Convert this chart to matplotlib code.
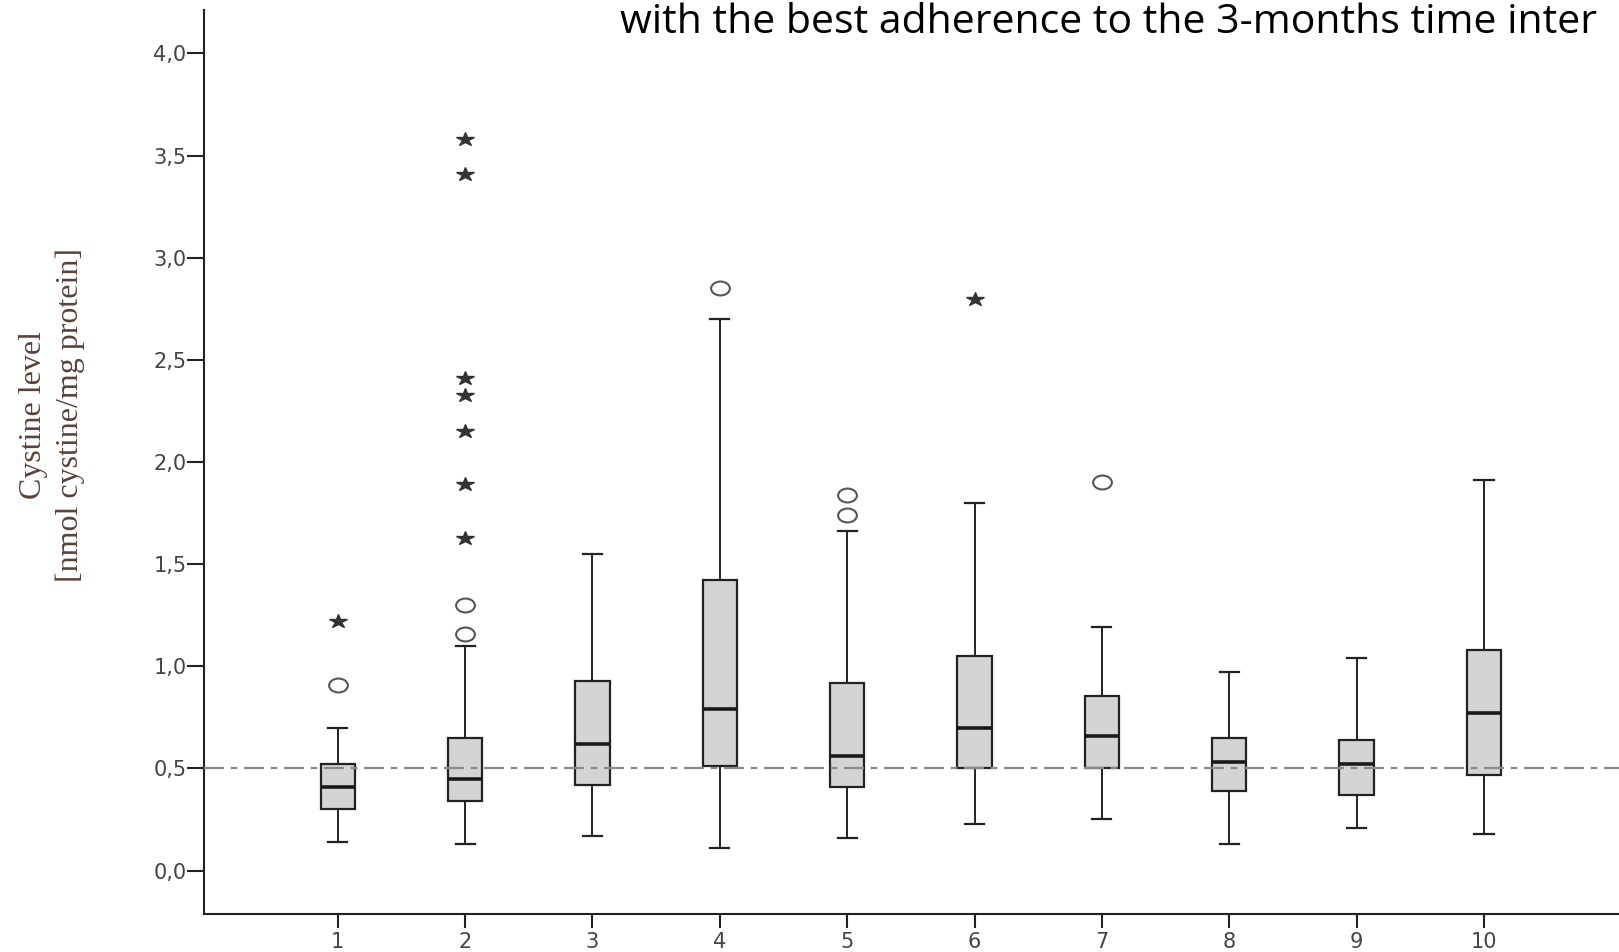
import numpy as np
import matplotlib.pyplot as plt
from matplotlib.markers import MarkerStyle
from matplotlib.transforms import Affine2D

# box statistics (nmol cystine / mg protein)
groups = [1, 2, 3, 4, 5, 6, 7, 8, 9, 10]
whisk_lo = [0.14, 0.13, 0.17, 0.11, 0.16, 0.23, 0.25, 0.13, 0.21, 0.18]
q1 = [0.30, 0.34, 0.42, 0.51, 0.41, 0.50, 0.50, 0.39, 0.37, 0.47]
med = [0.41, 0.45, 0.62, 0.79, 0.56, 0.70, 0.66, 0.53, 0.52, 0.77]
q3 = [0.52, 0.65, 0.93, 1.42, 0.92, 1.05, 0.855, 0.65, 0.64, 1.08]
whisk_hi = [0.70, 1.10, 1.55, 2.70, 1.66, 1.80, 1.19, 0.97, 1.04, 1.91]

# outliers (circles) and extreme values (stars)
circ_x = [1, 2, 2, 4, 5, 5, 7]
circ_y = [0.91, 1.16, 1.30, 2.85, 1.84, 1.74, 1.90]
star_x = [1, 2, 2, 2, 2, 2, 2, 2, 6]
star_y = [1.22, 1.63, 1.89, 2.15, 2.33, 2.41, 3.41, 3.58, 2.80]

ref_level = 0.5
yticks = [0.0, 0.5, 1.0, 1.5, 2.0, 2.5, 3.0, 3.5, 4.0]

fig = plt.figure(figsize=(16.19, 9.52), dpi=100)
ax = fig.add_axes([0.1263, 0.0401, 0.8737, 0.9489])

stats = []
for i in range(len(groups)):
    stats.append(dict(whislo=whisk_lo[i], q1=q1[i], med=med[i], q3=q3[i],
                      whishi=whisk_hi[i], fliers=[]))

ax.axhline(ref_level, color="#8a8a8a", lw=1.6, ls=(0, (9, 3, 3, 3)), zorder=3)

ax.bxp(stats, positions=groups, widths=0.27, patch_artist=True,
       showfliers=False, capwidths=0.15,
       boxprops=dict(facecolor="#d4d4d4", edgecolor="#222222", lw=1.6),
       medianprops=dict(color="#1a1a1a", lw=2.6),
       whiskerprops=dict(color="#222222", lw=1.4),
       capprops=dict(color="#222222", lw=1.6), zorder=2)

# markers look a little wider than tall in the original
wide = Affine2D().scale(1.35, 1.0)
circ_marker = MarkerStyle("o", fillstyle="none", transform=wide)
star_marker = MarkerStyle("*", transform=wide)
ax.plot(circ_x, circ_y, ls="none", marker=circ_marker, ms=10,
        mec="#555555", mew=1.5)
ax.plot(star_x, star_y, ls="none", marker=star_marker, ms=10,
        color="#333333")

ax.set_xlim(-0.046, 11.06)
ax.set_ylim(-0.212, 4.21)
ax.set_xticks(groups)
ax.set_xticklabels([str(g) for g in groups])
ax.set_yticks(yticks)
ax.set_yticklabels([("%.1f" % v).replace(".", ",") for v in yticks])

for s in ["top", "right"]:
    ax.spines[s].set_visible(False)
for s in ["left", "bottom"]:
    ax.spines[s].set_linewidth(1.5)
    ax.spines[s].set_color("#222222")

ax.tick_params(axis="y", direction="out", length=12, width=1.5,
               labelsize=15, colors="#222222", labelcolor="#444444", pad=1)
ax.tick_params(axis="x", direction="out", length=10, width=1.5,
               labelsize=15, colors="#222222", labelcolor="#444444", pad=3)

fig.text(0.032, 0.564, "Cystine level\n[nmol cystine/mg protein]",
         rotation=90, ha="center", va="center", family="Liberation Serif",
         fontsize=23, color="#5a4238", linespacing=1.35)

fig.text(0.3827, 0.965, "with the best adherence to the 3-months time inter",
         ha="left", va="baseline", family="Open Sans", fontsize=29.5,
         color="black")

fig.savefig("out.png", dpi=100)
